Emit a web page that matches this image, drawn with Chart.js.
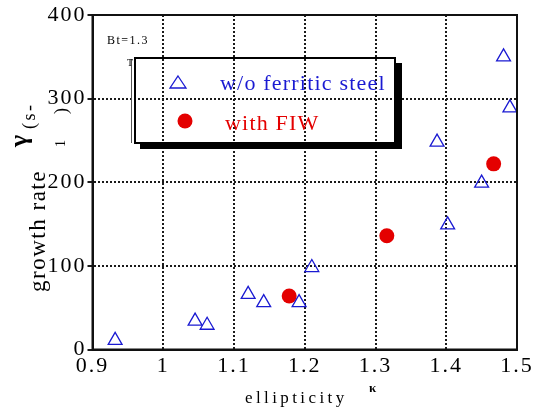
<!DOCTYPE html>
<html>
<head>
<meta charset="utf-8">
<script src="https://cdn.jsdelivr.net/npm/chart.js@4/dist/chart.umd.min.js"></script>
<style>
html,body{margin:0;padding:0;background:#fff;}
#c{display:block;}
</style>
</head>
<body>
<canvas id="c" width="545" height="414"></canvas>
<script>
// ---- data ----
const kappaNoFS = [0.932, 1.045, 1.062, 1.120, 1.142, 1.192, 1.210, 1.387, 1.402, 1.450, 1.481, 1.490];
const gammaNoFS = [11, 34, 29, 66, 56, 56, 98, 248, 149, 199, 350, 289];
const kappaFIW  = [1.178, 1.316, 1.467];
const gammaFIW  = [64, 136, 222];
const seriesLabels = ['w/o ferritic steel', 'with FIW'];
const xAxisRange = [0.9, 1.5, 0.1];   // min, max, step
const yAxisRange = [0, 400, 100];

const BLUE = '#1a1ad2';
const RED = '#e40000';
const SERIF = '"Liberation Serif", "DejaVu Serif", serif';

function toPoints(xs, ys){ return xs.map((x,i)=>({x:x, y:ys[i]})); }

function drawText(ctx, s, x, y, opts){
  ctx.save();
  ctx.font = opts.font;
  ctx.fillStyle = opts.color || '#000';
  ctx.textAlign = opts.align || 'left';
  ctx.textBaseline = opts.baseline || 'alphabetic';
  try { ctx.letterSpacing = (opts.spacing || 0) + 'px'; } catch(e){}
  ctx.translate(x, y);
  if (opts.rot) ctx.rotate(opts.rot);
  ctx.fillText(s, 0, 0);
  ctx.restore();
}

const spacingPlugin = {
  id: 'spacing',
  beforeDraw(chart){ try { chart.ctx.letterSpacing = '2px'; } catch(e){} },
  afterDraw(chart){ try { chart.ctx.letterSpacing = '0px'; } catch(e){} }
};

const decorPlugin = {
  id: 'decor',
  afterDraw(chart){
    const ctx = chart.ctx;
    const a = chart.chartArea;
    ctx.save();
    try { ctx.letterSpacing = '0px'; } catch(e){}
    // frame
    ctx.setLineDash([]);
    ctx.strokeStyle = '#111';
    ctx.lineWidth = 2;
    ctx.strokeRect(a.left, a.top, a.right - a.left, a.bottom - a.top);

    // legend box with shadow (transparent interior)
    ctx.fillStyle = '#000';
    ctx.fillRect(395, 63, 7, 86);
    ctx.fillRect(140, 143, 262, 6);
    ctx.strokeStyle = '#000';
    ctx.lineWidth = 2;
    ctx.strokeRect(135, 58, 260, 85);
    ctx.lineWidth = 1;
    ctx.strokeStyle = '#555';
    ctx.beginPath(); ctx.moveTo(131.5, 59); ctx.lineTo(131.5, 143); ctx.stroke();

    // legend markers
    ctx.strokeStyle = BLUE;
    ctx.lineWidth = 1.3;
    ctx.beginPath();
    ctx.moveTo(178, 76); ctx.lineTo(186, 88); ctx.lineTo(170, 88); ctx.closePath();
    ctx.stroke();
    ctx.fillStyle = RED;
    ctx.beginPath(); ctx.arc(185, 121, 7.5, 0, Math.PI*2); ctx.fill();
    ctx.restore();

    drawText(ctx, seriesLabels[0], 220, 90, {font: '22px ' + SERIF, color: BLUE, spacing: 1.2});
    drawText(ctx, seriesLabels[1], 225, 130, {font: '22px ' + SERIF, color: RED, spacing: 1.2});

    // annotations
    drawText(ctx, 'Bt=1.3', 107, 44, {font: '12px ' + SERIF, spacing: 1.5});
    drawText(ctx, 'T', 127, 66, {font: '10px ' + SERIF});

    // y-axis title pieces
    const R = -Math.PI/2;
    drawText(ctx, 'growth rate', 45, 231, {font: '23px ' + SERIF, align: 'center', spacing: 1.5, rot: R});
    drawText(ctx, 'γ', 27, 147, {font: 'bold 26px ' + SERIF, rot: R});
    drawText(ctx, '(s-', 35, 129, {font: '18px ' + SERIF, spacing: 2.5, rot: R});
    drawText(ctx, '1', 65, 147, {font: '14px ' + SERIF, rot: R});
    drawText(ctx, ')', 67, 114, {font: '18px ' + SERIF, rot: R});

    // x-axis title
    drawText(ctx, 'ellipticity', 245, 403, {font: '17px ' + SERIF, spacing: 3.4});
    drawText(ctx, 'κ', 369, 392, {font: 'bold 13px ' + SERIF});
  }
};

new Chart(document.getElementById('c'), {
  type: 'scatter',
  data: {
    datasets: [
      {
        label: seriesLabels[0],
        data: toPoints(kappaNoFS, gammaNoFS),
        pointStyle: 'triangle',
        pointRadius: 8,
        pointBorderColor: BLUE,
        pointBackgroundColor: 'rgba(0,0,0,0)',
        pointBorderWidth: 1.3,
        showLine: false
      },
      {
        label: seriesLabels[1],
        data: toPoints(kappaFIW, gammaFIW),
        pointStyle: 'circle',
        pointRadius: 7.5,
        pointBorderColor: RED,
        pointBackgroundColor: RED,
        pointBorderWidth: 0,
        showLine: false
      }
    ]
  },
  options: {
    responsive: false,
    animation: false,
    devicePixelRatio: 1,
    layout: { padding: { left: 0, top: 15, right: 28, bottom: 0 } },
    plugins: { legend: { display: false }, tooltip: { enabled: false } },
    scales: {
      x: {
        type: 'linear',
        min: xAxisRange[0], max: xAxisRange[1],
        afterFit(scale){ scale.height = 64.5; },
        ticks: {
          stepSize: xAxisRange[2],
          color: '#000',
          font: { family: SERIF, size: 22 },
          padding: 4,
          maxRotation: 0,
          callback: v => String(Number(Number(v).toFixed(1)))
        },
        grid: { color: '#1a1a1a', lineWidth: 2, drawTicks: false },
        border: { display: true, color: '#111', width: 2, dash: [2, 2] }
      },
      y: {
        type: 'linear',
        min: yAxisRange[0], max: yAxisRange[1],
        afterFit(scale){ scale.width = 92.5; },
        ticks: {
          stepSize: yAxisRange[2],
          color: '#000',
          font: { family: SERIF, size: 22 },
          padding: 1
        },
        grid: { color: '#1a1a1a', lineWidth: 2, drawTicks: true, tickLength: 5, tickBorderDash: [] },
        border: { display: true, color: '#111', width: 2, dash: [2, 2] }
      }
    }
  },
  plugins: [spacingPlugin, decorPlugin]
});
</script>
</body>
</html>
